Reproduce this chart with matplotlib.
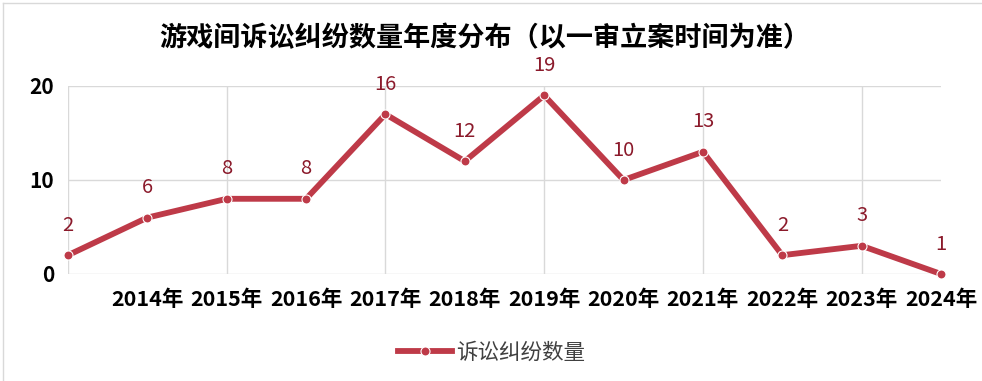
import matplotlib
matplotlib.use("Agg")
import matplotlib.pyplot as plt
from matplotlib.lines import Line2D

plt.rcParams['font.family'] = ['Noto Sans CJK SC', 'DejaVu Sans']

# ---- data ----
categories = ['', '2014年', '2015年', '2016年', '2017年', '2018年', '2019年',
              '2020年', '2021年', '2022年', '2023年', '2024年']
values = [2, 6, 8, 8, 17, 12, 19, 10, 13, 2, 3, 0]
value_labels = ['2', '6', '8', '8', '16', '12', '19', '10', '13', '2', '3', '1']
yticks = [0, 10, 20]
series_name = '诉讼纠纷数量'
title = '游戏间诉讼纠纷数量年度分布（以一审立案时间为准）'

W, H = 982, 381
fig = plt.figure(figsize=(W / 100, H / 100), dpi=100)

left, right, top, bottom = 68, 941, 86, 274
ax = fig.add_axes([left / W, 1 - bottom / H, (right - left) / W, (bottom - top) / H])

line_color = '#BE3A48'
label_color = '#8B1A2B'
grid_color = '#D9D9D9'

x = list(range(len(categories)))
ax.plot(x, values, color=line_color, lw=4.2, marker='o', ms=6.5,
        markerfacecolor=line_color, markeredgecolor='white', mew=0.8,
        solid_capstyle='butt', zorder=3, clip_on=False, label=series_name)

for xi, v, lab in zip(x, values, value_labels):
    ax.annotate(lab, (xi, v), xytext=(0, 21.5), textcoords='offset points',
                ha='center', va='center', fontsize=14.5, color=label_color,
                annotation_clip=False)

ax.set_xlim(0, len(categories) - 1)
ax.set_ylim(0, 20)
ax.set_yticks(yticks)
ax.set_yticklabels([str(t) for t in yticks], fontsize=15, fontweight='bold')
ax.set_xticks(x)
ax.set_xticklabels(categories, fontsize=15.5, fontweight='bold')
ax.tick_params(axis='y', length=0, pad=10)
ax.tick_params(axis='x', length=0, pad=11)

# gridlines
for t in yticks:
    ax.axhline(t, color=grid_color, lw=1, zorder=1)
ax.vlines(x[::2], 0, 20, color=grid_color, lw=1, zorder=1)

for s in ax.spines.values():
    s.set_visible(False)

fig.text(485 / W, 1 - 38 / H, title, ha='center', va='center',
         fontsize=19.5, fontweight='bold', color='black')

handle = Line2D([], [], color=line_color, lw=4.2, marker='o', ms=6.5,
                markerfacecolor=line_color, markeredgecolor='white', mew=0.8)
leg = fig.legend([handle], [series_name], loc='center', bbox_to_anchor=(492 / W, 1 - 353 / H),
                 frameon=False, fontsize=15.5, handlelength=2.5, handletextpad=0.2)
for t in leg.get_texts():
    t.set_color('#404040')

# figure border
fig.add_artist(Line2D([2.5 / W, 2.5 / W], [0, 1 - 3 / H], transform=fig.transFigure,
                      color=grid_color, lw=1))
fig.add_artist(Line2D([2.5 / W, 1], [1 - 3 / H, 1 - 3 / H], transform=fig.transFigure,
                      color=grid_color, lw=1))

fig.savefig('out.png', dpi=100, facecolor='white')
